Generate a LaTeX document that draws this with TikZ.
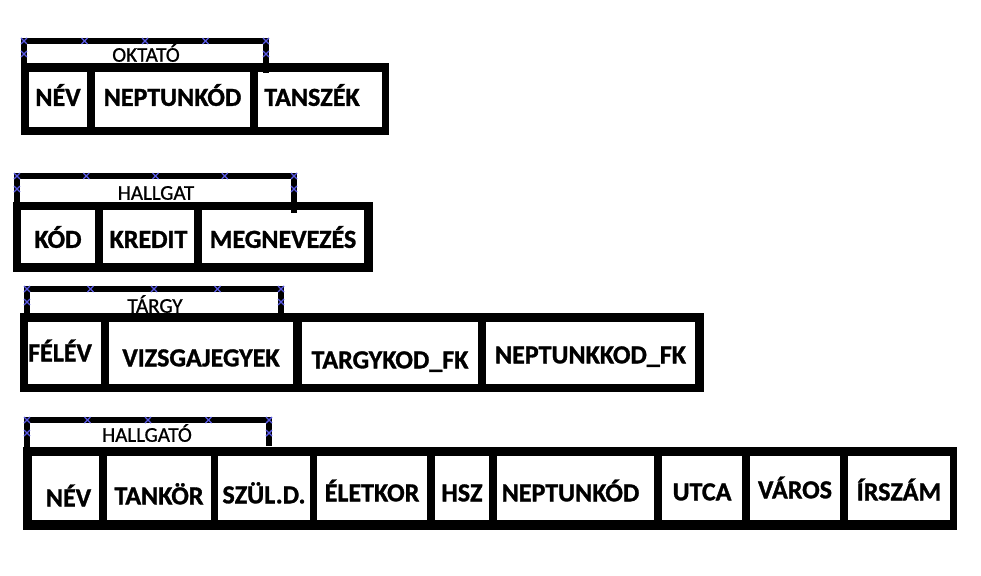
\documentclass[tikz,border=0pt]{standalone}
\usepackage{fontspec}
\setmainfont{Carlito}
\newfontface\cellface{Carlito Bold}[FakeBold=1.2]
\newfontface\hdrface{Carlito}[FakeBold=0.8]
\usepackage{tikz}
\definecolor{handleblue}{HTML}{5A5AE6}

% one white field inside a black table body: name, x1, y1, x2, y2, text
\newcommand{\cellbox}[7][0]{%
    \node[cell, minimum width={#5-#3}, minimum height={#6-#4}] (#2)
        at ({(#3+#5)/2},{(#4+#6)/2}) {\raisebox{#1pt}{#7}};}

\begin{document}
\begin{tikzpicture}[
        x=1pt, y=-1pt,
        body/.style={
            fill=black
        },
        cell/.style={
            fill=white,
            inner sep=0pt,
            text height=16.7pt,
            text depth=0pt,
            font=\cellface\fontsize{26}{28}\selectfont
        },
        brk/.style={
            draw=black,
            line width=5.5pt
        },
        hdr/.style={
            inner sep=0pt,
            text height=13.5pt,
            text depth=0pt,
            font=\hdrface\fontsize{21}{23}\selectfont
        },
        handle/.style={
            draw=handleblue,
            line width=1.4pt
        }
    ]

    \useasboundingbox (0,0) rectangle (981,575);

    % OKTATO
    \fill[body] (21,63) rectangle (389,135);
    \cellbox[2]{okt-nev}{29}{72}{87}{127}{NÉV}
    \cellbox[2]{okt-neptunkod}{95}{72}{250}{127}{NEPTUNKÓD}
    \cellbox[2]{okt-tanszek}{258}{72}{382}{127}{TANSZÉK\kern16pt}
    \node[hdr] (okt) at (146,55) {OKTATÓ};
    \draw[brk] (24,64) |- (266,41) -- (266,73);

    % HALLGAT
    \fill[body] (13,202) rectangle (373,272);
    \cellbox[-3]{hgt-kod}{21}{210}{95}{263}{KÓD}
    \cellbox[-3]{hgt-kredit}{103}{210}{194}{263}{KREDIT}
    \cellbox[-3]{hgt-megnevezes}{202}{210}{364}{263}{MEGNEVEZÉS}
    \node[hdr] (hgt) at (156,193) {HALLGAT};
    \draw[brk] (17,203) |- (294,176) -- (294,213);

    % TARGY
    \fill[body] (20,313) rectangle (704,392);
    \cellbox{trg-felev}{28}{322}{101}{384}{FÉLÉV\kern9pt}
    \cellbox[-5]{trg-vizsga}{109}{322}{293}{384}{VIZSGAJEGYEK}
    \cellbox[-7]{trg-targykod}{302}{322}{478}{384}{TARGYKOD\_FK}
    \cellbox[-2]{trg-neptunkkod}{486}{322}{695}{384}{NEPTUNKKOD\_FK}
    \node[hdr] (trg) at (155,306) {TÁRGY};
    \draw[brk] (27,314) |- (281,289) -- (281,322);

    % HALLGATO
    \fill[body] (23,447) rectangle (957,530);
    \cellbox[-10]{hgo-nev}{32}{456}{99}{520}{\kern6pt NÉV}
    \cellbox[-8]{hgo-tankor}{107}{456}{211}{520}{TANKÖR}
    \cellbox[-7]{hgo-szuld}{218}{456}{310}{520}{SZÜL.D.}
    \cellbox[-5]{hgo-eletkor}{317}{456}{427}{520}{ÉLETKOR}
    \cellbox[-5]{hgo-hsz}{435}{456}{489}{520}{HSZ}
    \cellbox[-5]{hgo-neptunkod}{497}{456}{654}{520}{NEPTUNKÓD\kern10pt}
    \cellbox[-4]{hgo-utca}{662}{456}{742}{520}{UTCA}
    \cellbox[-2]{hgo-varos}{750}{456}{840}{520}{VÁROS}
    \cellbox[-4]{hgo-irszam}{848}{456}{950}{520}{ÍRSZÁM}
    \node[hdr] (hgo) at (147,435) {HALLGATÓ};
    \draw[brk] (27,448) |- (269,420) -- (269,446);

    % selection handles on the brackets
    \foreach \xa/\xb/\yt in {24/266/41, 17/294/176, 27/281/289, 27/269/420} {
        \foreach \k in {0,...,4} {
            \draw[handle] ({\xa+\k*(\xb-\xa)/4-3},\yt-3) -- ++(6,6)
                ++(-6,0) -- ++(6,-6);
        }
        \draw[handle] (\xa-3,\yt+10) -- ++(6,6) ++(-6,0) -- ++(6,-6);
        \draw[handle] (\xb-3,\yt+10) -- ++(6,6) ++(-6,0) -- ++(6,-6);
    }

\end{tikzpicture}
\end{document}
